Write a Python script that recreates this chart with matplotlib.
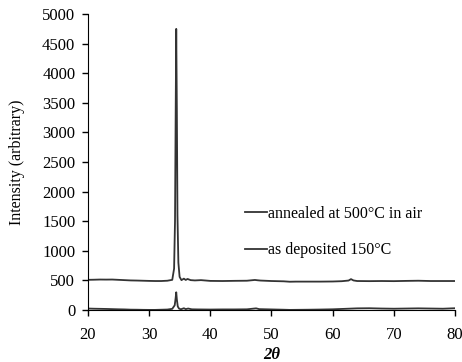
import numpy as np
import matplotlib.pyplot as plt

plt.rcParams['font.family'] = ['Liberation Serif', 'DejaVu Serif']

# annealed at 500 C in air
ann_x = [20, 21, 22, 23, 24, 25, 26, 27, 28, 29, 30, 31, 32, 33, 33.8, 34.1, 34.25,
         34.35, 34.45, 34.55, 34.65, 34.8, 35.0, 35.3, 35.7, 36.0, 36.3, 36.8, 37.5,
         38.5, 40, 42, 44, 46, 47.3, 47.7, 48.2, 50, 52, 53, 54, 56, 58, 60, 61.5,
         62.6, 63.0, 63.4, 64, 66, 68, 70, 72, 74, 76, 78, 80]
ann_y = [510, 512, 515, 514, 515, 510, 505, 500, 498, 495, 492, 490, 490, 495, 510, 700, 1500,
         3200, 4750, 3400, 1600, 800, 560, 505, 530, 508, 525, 505, 500,
         505, 492, 490, 493, 495, 508, 503, 498, 490, 485, 478, 480, 480, 480, 482, 487,
         498, 522, 500, 490, 488, 490, 488, 492, 495, 490, 490, 490]

# as deposited 150 C
dep_x = [20, 21, 22, 23, 24, 25, 26, 27, 28, 29, 30, 31, 32, 33, 33.8, 34.2, 34.35,
         34.45, 34.55, 34.7, 34.9, 35.2, 35.7, 36.0, 36.4, 37, 38, 40, 42, 44, 46,
         47.5, 48, 50, 52, 53, 54, 56, 58, 60, 62, 64, 66, 68, 70, 72, 74, 76, 78, 80]
dep_y = [25, 22, 20, 18, 15, 12, 10, 6, 5, 3, 2, 2, 5, 8, 20, 80, 200,
         300, 180, 60, 25, 12, 30, 15, 25, 12, 10, 8, 10, 10, 12,
         28, 15, 10, 5, 2, 3, 5, 8, 12, 20, 28, 30, 25, 22, 25, 28, 25, 22, 30]

x_ticks = [20, 30, 40, 50, 60, 70, 80]
y_ticks = list(range(0, 5001, 500))

fig = plt.figure(figsize=(4.62, 3.62), dpi=100)
ax = fig.add_axes([0.19, 0.1436, 0.795, 0.8174])

ax.plot(ann_x, ann_y, color='#333333', lw=1.3, label='annealed at 500°C in air')
ax.plot(dep_x, dep_y, color='#333333', lw=1.3, label='as deposited 150°C')

ax.set_xlim(20, 80)
ax.set_ylim(0, 5000)
ax.set_xticks(x_ticks)
ax.set_yticks(y_ticks)
ax.tick_params(labelsize=12, direction='out', length=4, width=1)
ax.tick_params(axis='x', pad=8)
ax.tick_params(axis='y', pad=5)
for s in ['top', 'right']:
    ax.spines[s].set_visible(False)
ax.set_ylabel('Intensity (arbitrary)', fontsize=11.5, labelpad=12)
ax.set_xlabel('2θ', fontsize=12, fontweight='bold', fontstyle='italic', labelpad=3)

ax.legend(loc='upper left', bbox_to_anchor=(0.405, 0.38), frameon=False, fontsize=11.5,
          handlelength=1.4, handletextpad=0.05, labelspacing=1.3, borderpad=0)

plt.savefig('out.png', dpi=100)
